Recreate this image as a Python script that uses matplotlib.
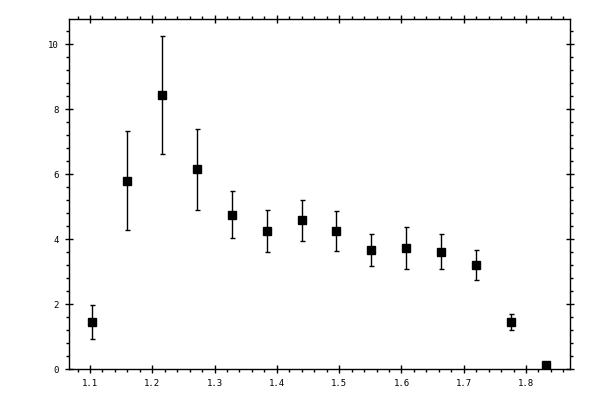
import matplotlib
matplotlib.use("Agg")
import matplotlib.pyplot as plt
from matplotlib.ticker import MultipleLocator
import numpy as np

# data
x_vals = [1.1037, 1.1599, 1.2161, 1.2723, 1.3285, 1.3847, 1.4408,
          1.4954, 1.5516, 1.6078, 1.6640, 1.7202, 1.7764, 1.8325]
y_vals = [1.45, 5.78, 8.43, 6.15, 4.74, 4.25, 4.58,
          4.25, 3.66, 3.72, 3.60, 3.20, 1.45, 0.12]
y_low = [0.92, 4.29, 6.62, 4.90, 4.04, 3.61, 3.94,
         3.64, 3.17, 3.08, 3.08, 2.74, 1.20, 0.08]
y_high = [1.97, 7.32, 10.25, 7.38, 5.49, 4.90, 5.21,
          4.86, 4.15, 4.37, 4.15, 3.66, 1.69, 0.16]

y = np.array(y_vals)
yerr = [y - np.array(y_low), np.array(y_high) - y]

dpi = 100
fig = plt.figure(figsize=(600 / dpi, 400 / dpi), dpi=dpi)
ax = fig.add_axes([68.5 / 600, 1 - 369.3 / 400, (570.3 - 68.5) / 600, (369.3 - 19.3) / 400])

ax.errorbar(x_vals, y_vals, yerr=yerr, fmt='s', color='black', ms=5.4,
            elinewidth=1, capsize=1.8, capthick=1, ecolor='black')

ax.set_xlim(1.0655, 1.8711)
ax.set_ylim(0, 10.76)

ax.xaxis.set_major_locator(MultipleLocator(0.1))
ax.xaxis.set_minor_locator(MultipleLocator(0.02))
ax.yaxis.set_major_locator(MultipleLocator(2))
ax.yaxis.set_minor_locator(MultipleLocator(0.4))
ax.xaxis.set_major_formatter(plt.FuncFormatter(lambda v, p: f"{v:.1f}"))
ax.yaxis.set_major_formatter(plt.FuncFormatter(lambda v, p: f"{v:.0f}"))

ax.tick_params(which='major', direction='inout', length=5.8, width=1,
               top=True, right=True, labelsize=6.5, pad=4)
ax.tick_params(which='minor', direction='out', length=2.5, width=1,
               top=True, right=True)
for lab in ax.get_xticklabels() + ax.get_yticklabels():
    lab.set_family('DejaVu Sans Mono')

for s in ax.spines.values():
    s.set_linewidth(1)

fig.savefig("out.png", dpi=dpi)
